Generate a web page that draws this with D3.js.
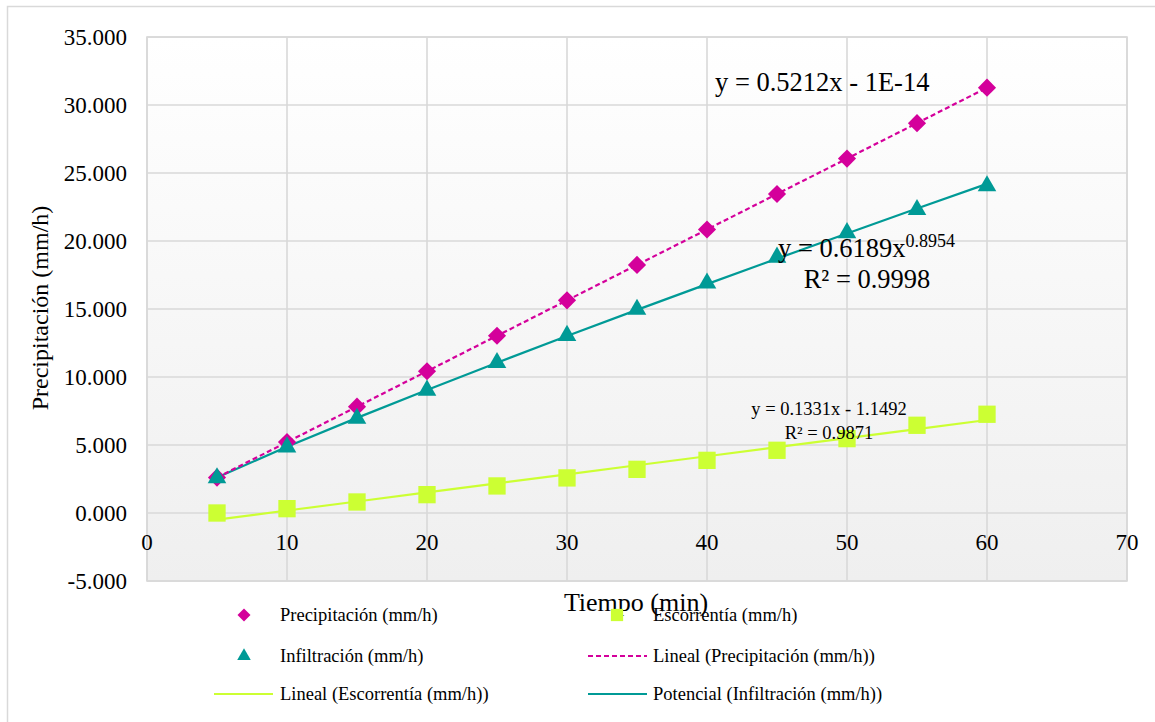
<!DOCTYPE html>
<html>
<head>
<meta charset="utf-8">
<script src="https://cdn.jsdelivr.net/npm/d3@7.9.0/dist/d3.min.js"></script>
<style>
  body { margin: 0; background: #fff; }
  svg text { font-family: "Liberation Serif", "Times New Roman", serif; fill: #000; }
</style>
</head>
<body>
<svg id="chart" width="1155" height="722"></svg>
<script>
// data
const tiempo = [5, 10, 15, 20, 25, 30, 35, 40, 45, 50, 55, 60];
const precipitacion = [2.606, 5.212, 7.818, 10.424, 13.03, 15.636, 18.242, 20.848, 23.454, 26.06, 28.666, 31.272];
const infiltracion = [2.58, 4.85, 6.95, 9.02, 11.05, 13.05, 14.97, 16.9, 18.8, 20.6, 22.3, 24.05];
const escorrentia = [0.0, 0.32, 0.81, 1.35, 1.99, 2.58, 3.21, 3.87, 4.61, 5.47, 6.45, 7.26];

// trendline coefficients as printed on the chart
const linPrecip = [0.5212, -1e-14];
const linEscor = [0.1331, -1.1492];
const potInfil = [0.6189, 0.8954];

const xTicks = [0, 10, 20, 30, 40, 50, 60, 70];
const yTicks = [-5, 0, 5, 10, 15, 20, 25, 30, 35];

const colPrecip = '#d4009b';
const colInfil = '#009a96';
const colEscor = '#ccff33';
const gridCol = '#d9d9d9';

const svg = d3.select('#chart');
const plotL = 147, plotR = 1127, plotT = 37, plotB = 581;

const x = d3.scaleLinear().domain([0, 70]).range([plotL, plotR]);
const y = d3.scaleLinear().domain([-5, 35]).range([plotB, plotT]);

// outer chart frame
svg.append('rect')
  .attr('x', 7.5).attr('y', 6.5)
  .attr('width', 1170).attr('height', 740)
  .attr('fill', '#fff').attr('stroke', gridCol).attr('stroke-width', 1.5);

// plot background gradient
let grad = svg.append('defs').append('linearGradient')
  .attr('id', 'bg').attr('x1', 0).attr('y1', 0).attr('x2', 0).attr('y2', 1);
grad.append('stop').attr('offset', '0%').attr('stop-color', '#ffffff');
grad.append('stop').attr('offset', '100%').attr('stop-color', '#efefef');

svg.append('rect')
  .attr('x', plotL).attr('y', plotT)
  .attr('width', plotR - plotL).attr('height', plotB - plotT)
  .attr('fill', 'url(#bg)');

// grid
svg.append('g').selectAll('line').data(yTicks).join('line')
  .attr('x1', plotL).attr('x2', plotR)
  .attr('y1', (d) => y(d)).attr('y2', (d) => y(d))
  .attr('stroke', gridCol).attr('stroke-width', 1.6);

svg.append('g').selectAll('line').data(xTicks).join('line')
  .attr('x1', (d) => x(d)).attr('x2', (d) => x(d))
  .attr('y1', plotT).attr('y2', plotB)
  .attr('stroke', gridCol).attr('stroke-width', 1.6);

svg.append('rect')
  .attr('x', plotL).attr('y', plotT)
  .attr('width', plotR - plotL).attr('height', plotB - plotT)
  .attr('fill', 'none').attr('stroke', gridCol).attr('stroke-width', 1.6);

// tick labels
svg.append('g').selectAll('text').data(yTicks).join('text')
  .attr('x', 127).attr('y', (d) => y(d))
  .attr('dy', '0.34em')
  .attr('text-anchor', 'end')
  .style('font-size', '23px')
  .text((d) => d3.format('.3f')(d).replace('−', '-'));

svg.append('g').selectAll('text').data(xTicks).join('text')
  .attr('x', (d) => x(d)).attr('y', y(0) + 29)
  .attr('dy', '0.34em')
  .attr('text-anchor', 'middle')
  .style('font-size', '23px')
  .text((d) => d);

// axis titles
svg.append('text')
  .attr('transform', `translate(48, 308) rotate(-90)`)
  .attr('text-anchor', 'middle')
  .style('font-size', '24px')
  .text('Precipitación (mm/h)');

svg.append('text')
  .attr('x', 636).attr('y', 611)
  .attr('text-anchor', 'middle')
  .style('font-size', '26px')
  .text('Tiempo (min)');

// trendlines
const line = d3.line().x((d) => x(d[0])).y((d) => y(d[1]));

svg.append('path')
  .attr('d', line(tiempo.map((t) => [t, linEscor[0] * t + linEscor[1]])))
  .attr('fill', 'none').attr('stroke', colEscor).attr('stroke-width', 2.2);

svg.append('path')
  .attr('d', line(tiempo.map((t) => [t, potInfil[0] * Math.pow(t, potInfil[1])])))
  .attr('fill', 'none').attr('stroke', colInfil).attr('stroke-width', 2.2);

svg.append('path')
  .attr('d', line(tiempo.map((t) => [t, linPrecip[0] * t + linPrecip[1]])))
  .attr('fill', 'none').attr('stroke', colPrecip).attr('stroke-width', 2.2)
  .attr('stroke-dasharray', '5,3');

// markers
const diamond = d3.symbol().type(d3.symbolSquare).size(165);
const triangle = d3.symbol().type(d3.symbolTriangle).size(150);
const square = d3.symbol().type(d3.symbolSquare).size(300);

svg.append('g').selectAll('path').data(tiempo).join('path')
  .attr('d', square)
  .attr('transform', (d, i) => `translate(${x(d)},${y(escorrentia[i])})`)
  .attr('fill', colEscor);

svg.append('g').selectAll('path').data(tiempo).join('path')
  .attr('d', diamond)
  .attr('transform', (d, i) => `translate(${x(d)},${y(precipitacion[i])}) rotate(45)`)
  .attr('fill', colPrecip);

svg.append('g').selectAll('path').data(tiempo).join('path')
  .attr('d', triangle)
  .attr('transform', (d, i) => `translate(${x(d)},${y(infiltracion[i])})`)
  .attr('fill', colInfil);

// trendline equations
svg.append('text')
  .attr('x', 715).attr('y', 91)
  .style('font-size', '26.5px')
  .text('y = 0.5212x - 1E-14');

let eqPot = svg.append('text')
  .attr('x', 778).attr('y', 257)
  .style('font-size', '26.5px');
eqPot.append('tspan').text('y = 0.6189x');
eqPot.append('tspan').attr('dy', -10).style('font-size', '18px').text('0.8954');

svg.append('text')
  .attr('x', 867).attr('y', 288)
  .attr('text-anchor', 'middle')
  .style('font-size', '26.5px')
  .text('R² = 0.9998');

svg.append('text')
  .attr('x', 829).attr('y', 415)
  .attr('text-anchor', 'middle')
  .style('font-size', '18.5px')
  .text('y = 0.1331x - 1.1492');

svg.append('text')
  .attr('x', 829).attr('y', 439)
  .attr('text-anchor', 'middle')
  .style('font-size', '18.5px')
  .text('R² = 0.9871');

// legend
const legendItems = [
  { label: 'Precipitación (mm/h)', kind: 'diamond', color: colPrecip, lx: 244, tx: 280, ly: 615 },
  { label: 'Escorrentía (mm/h)', kind: 'square', color: colEscor, lx: 617, tx: 653, ly: 615 },
  { label: 'Infiltración (mm/h)', kind: 'triangle', color: colInfil, lx: 244, tx: 280, ly: 656 },
  { label: 'Lineal (Precipitación (mm/h))', kind: 'dash', color: colPrecip, lx: 588, tx: 653, ly: 656 },
  { label: 'Lineal (Escorrentía (mm/h))', kind: 'line', color: colEscor, lx: 214, tx: 280, ly: 694 },
  { label: 'Potencial (Infiltración (mm/h))', kind: 'line', color: colInfil, lx: 588, tx: 653, ly: 694 }
];

const legend = svg.append('g');
legendItems.forEach((d) => {
  if (d.kind === 'diamond') {
    legend.append('path')
      .attr('d', d3.symbol().type(d3.symbolSquare).size(85)())
      .attr('transform', `translate(${d.lx},${d.ly}) rotate(45)`)
      .attr('fill', d.color);
  } else if (d.kind === 'square') {
    legend.append('path')
      .attr('d', d3.symbol().type(d3.symbolSquare).size(150)())
      .attr('transform', `translate(${d.lx},${d.ly})`)
      .attr('fill', d.color);
  } else if (d.kind === 'triangle') {
    legend.append('path')
      .attr('d', d3.symbol().type(d3.symbolTriangle).size(80)())
      .attr('transform', `translate(${d.lx},${d.ly})`)
      .attr('fill', d.color);
  } else {
    legend.append('line')
      .attr('x1', d.lx).attr('x2', d.lx + 59)
      .attr('y1', d.ly).attr('y2', d.ly)
      .attr('stroke', d.color).attr('stroke-width', 2.2)
      .attr('stroke-dasharray', d.kind === 'dash' ? '5,3' : null);
  }
  legend.append('text')
    .attr('x', d.tx).attr('y', d.ly)
    .attr('dy', '0.34em')
    .style('font-size', '18.5px')
    .text(d.label);
});
</script>
</body>
</html>
